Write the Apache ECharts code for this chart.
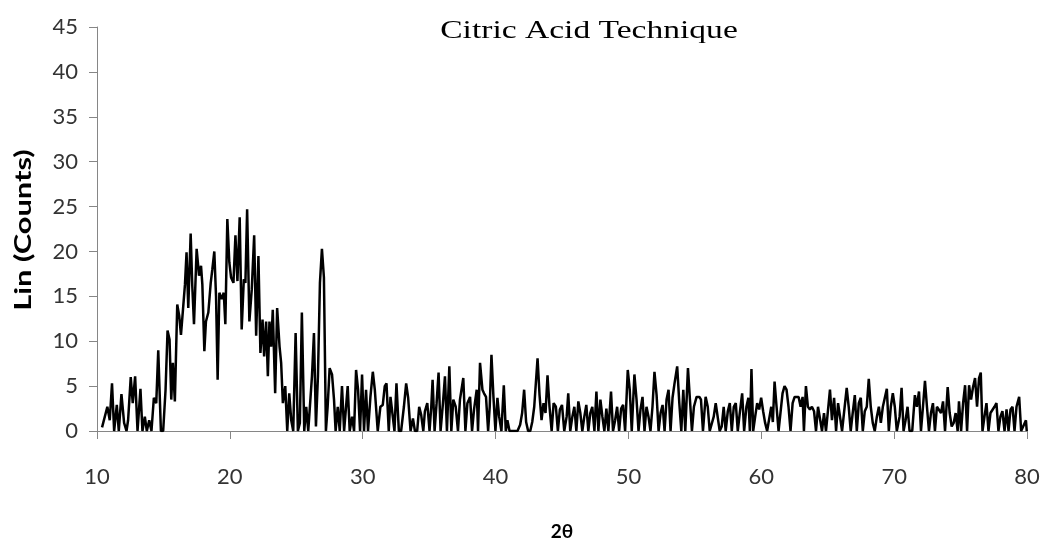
<!DOCTYPE html>
<html>
<head>
<meta charset="utf-8">
<script src="https://cdn.jsdelivr.net/npm/echarts@6/dist/echarts.min.js"></script>
<style>
  html, body { margin: 0; padding: 0; background: #fff; }
  #chart { width: 1042px; height: 542px; }
</style>
</head>
<body>
<div id="chart"></div>
<script>
// 2θ positions (deg) and counts, left to right
const twoTheta = [
  10.38,10.78,10.96,11.13,11.29,11.49,11.64,11.84,12.04,12.22,
  12.34,12.54,12.69,12.87,13.05,13.27,13.42,13.60,13.75,13.93,
  14.10,14.28,14.46,14.61,14.81,14.98,15.16,15.31,15.46,15.59,
  15.71,15.86,16.04,16.19,16.32,16.47,16.62,16.74,16.87,17.05,
  17.17,17.30,17.50,17.68,17.83,17.93,18.08,18.20,18.38,18.56,
  18.68,18.83,18.96,19.08,19.21,19.38,19.54,19.66,19.81,19.96,
  20.09,20.27,20.42,20.57,20.74,20.89,21.05,21.17,21.30,21.47,
  21.65,21.83,21.98,22.15,22.30,22.46,22.58,22.73,22.86,22.98,
  23.11,23.23,23.41,23.56,23.74,23.86,23.99,24.17,24.32,24.47,
  24.62,24.77,24.95,25.12,25.27,25.42,25.60,25.75,25.90,26.05,
  26.18,26.33,26.48,26.63,26.78,26.93,27.08,27.23,27.36,27.51,
  27.69,27.84,27.96,28.12,28.27,28.44,28.60,28.74,28.87,29.02,
  29.20,29.35,29.50,29.65,29.80,29.95,30.10,30.25,30.40,30.58,
  30.76,30.91,
  31.13,31.33,31.51,31.66,31.79,31.96,32.09,32.24,32.39,32.54,
  32.72,32.89,33.10,33.27,33.42,33.60,33.78,33.93,34.10,34.25,
  34.40,34.56,34.68,34.86,35.03,35.16,35.26,35.41,35.56,35.71,
  35.86,36.04,36.19,36.34,36.52,36.67,36.82,37.00,37.17,37.32,
  37.57,37.73,37.88,38.08,38.23,38.38,38.58,38.68,38.83,39.01,
  39.13,39.28,39.44,39.56,39.69,39.84,39.99,40.14,40.27,40.44,
  40.62,40.77,40.89,41.05,41.20,41.40,41.65,41.85,42.00,42.15,
  42.30,42.45,42.61,42.76,42.91,43.16,43.31,43.46,43.61,43.76,
  43.91,44.06,44.22,44.37,44.54,44.69,44.84,45.00,45.17,45.35,
  45.47,45.62,45.78,45.93,46.08,46.23,46.38,46.53,46.68,46.83,
  46.98,47.13,47.28,47.44,47.59,47.74,47.89,48.04,48.19,48.34,
  48.49,48.69,48.84,49.00,49.15,49.30,49.45,49.60,49.75,49.95,
  50.10,50.25,50.45,50.61,50.76,50.91,51.06,51.21,51.36,51.51,
  51.66,51.81,51.96,52.12,52.27,52.42,52.57,52.72,52.87,53.02,
  53.17,53.32,53.47,53.67,53.83,53.98,54.13,54.28,54.48,54.63,
  54.78,54.93,55.13,55.34,
  55.46,55.61,55.81,55.97,56.12,56.27,56.42,56.57,56.72,56.87,
  57.02,57.17,57.32,57.48,57.63,57.78,57.93,58.08,58.23,58.38,
  58.56,58.71,58.88,59.03,59.14,59.26,59.39,59.54,59.69,59.84,
  59.99,60.14,60.29,60.44,60.59,60.75,60.87,61.00,61.15,61.30,
  61.45,61.60,61.75,61.90,62.05,62.20,62.36,62.51,62.66,62.81,
  62.96,63.11,63.21,63.36,63.51,63.66,63.81,63.97,64.12,64.27,
  64.42,64.57,64.72,64.87,65.02,65.17,65.32,65.48,65.63,65.78,
  65.93,66.08,66.23,66.43,66.58,66.73,66.88,67.04,67.19,67.34,
  67.49,67.64,67.79,67.94,68.09,68.24,68.39,68.54,68.70,68.85,
  69.00,69.15,69.30,69.45,69.60,69.75,69.90,70.05,70.20,70.41,
  70.56,70.71,70.86,71.01,71.16,71.36,71.56,71.71,71.87,72.02,
  72.17,72.32,72.47,72.62,72.77,72.92,73.07,73.22,73.37,73.53,
  73.68,73.83,74.03,74.18,74.33,74.48,74.63,74.78,74.88,75.04,
  75.19,75.34,75.49,75.64,75.79,75.94,76.09,76.24,76.39,76.52,
  76.65,76.80,76.95,77.10,77.25,77.40,77.55,77.70,77.85,78.00,
  78.15,78.31,78.46,78.61,78.76,78.91,79.06,79.21,79.41,79.56,
  79.71,79.92,79.98
];

const counts = [
  0.4,2.7,1.2,5.3,0,2.9,0,4.1,0.9,0,
  1.2,6.0,3.1,6.1,0,4.7,0,1.6,0,1.2,
  0,3.7,3.1,9.0,0,0,4.6,11.2,10.2,3.5,
  7.6,3.3,14.1,12.8,10.7,13.5,16.3,19.9,13.7,22.0,
  16.2,11.9,20.3,17.3,18.4,16.3,8.9,12.2,13.2,16.5,
  18.0,20.0,15.0,5.7,15.4,14.7,15.4,11.9,23.6,18.8,
  17.1,16.5,21.8,16.7,23.8,11.3,16.9,16.5,24.7,12.2,
  15.8,21.8,10.6,19.5,8.7,12.4,8.3,12.2,6.1,12.2,
  9.4,13.5,4.2,13.7,9.4,7.6,3.1,5.0,0,4.2,
  1.2,0,10.9,0,0.9,13.2,0,2.7,0,0,
  6.1,10.9,0.5,6.1,16.5,20.3,17.1,0,2.7,7.0,
  6.3,3.5,0,2.7,0,5.0,0,0,5.0,0,
  1.6,0,6.8,4.6,0,6.3,0,4.6,0,3.8,
  6.6,4.6,
  0,2.7,2.9,5.0,5.3,0,3.8,4.0,0,5.3,
  0,0,2.7,5.3,3.7,0,1.4,0,0,2.7,
  1.8,0,2.2,3.1,0,2.7,5.7,0,3.1,6.5,
  0,3.1,6.1,0,7.2,0,3.5,2.7,0,3.5,
  5.9,0,3.1,3.8,0,2.4,4.6,0,7.6,4.6,
  4.2,3.8,0,2.7,8.5,3.8,0,3.7,1.6,0,
  5.1,0,1.2,0,0,0,0,0.7,2.0,4.6,
  1.0,0,0,1.0,2.7,8.1,4.0,1.2,3.1,2.0,
  6.2,2.7,0,3.1,2.7,0,2.4,2.9,0,1.6,
  4.2,0,1.6,2.7,0,3.3,2.0,0,1.6,2.9,
  0,2.0,2.7,0,4.4,0,3.5,1.6,0,2.5,
  0,4.4,0,1.2,2.7,0,2.5,2.9,0,6.8,
  4.6,0,6.3,3.5,0,2.4,3.8,0,2.7,1.6,
  0,2.7,6.6,4.0,0,2.0,2.9,0,3.5,4.6,
  0,3.7,5.3,7.2,3.1,0,4.6,0,7.0,3.5,
  0,2.7,3.8,3.8,
  3.5,0,3.8,2.7,0,0,1.6,3.1,2.9,0,
  0.5,2.7,0,2.2,3.1,0,2.7,3.1,0,2.0,
  4.2,0,2.7,3.7,0,6.9,0,1.6,3.1,2.4,
  3.7,2.2,0.9,0,0,2.7,1.0,5.5,2.7,0,
  0,4.2,5.0,4.6,2.7,0,3.1,3.8,3.7,3.8,
  2.7,3.8,0,5.0,2.7,2.4,2.7,2.2,0,2.7,
  2.9,0,2.0,0,0,4.6,1.2,3.7,0,3.1,
  3.1,0,0,4.8,2.7,0,2.0,4.0,0,3.1,
  3.7,0,2.2,2.7,5.8,2.7,0.9,0,1.6,2.7,
  0.9,2.7,3.7,4.7,0,2.7,4.2,2.7,0,1.6,
  4.8,0,1.2,2.7,0,0,4.0,2.7,4.4,0,
  2.7,5.6,2.7,0,2.0,3.1,0,2.7,2.7,2.0,
  3.3,0,4.9,2.0,0.5,0.9,2.0,0,3.3,0,
  3.1,5.1,0,5.1,3.5,4.9,5.9,2.7,5.9,6.5,
  0,1.6,3.1,0,2.0,1.8,2.7,3.1,0,1.6,
  2.2,0,2.4,0,2.4,2.7,0,2.7,3.8,0,
  0,1.2,0
];

const xTicks = { min: 10, max: 80, step: 10 };
const yTicks = { min: 0, max: 45, step: 5 };

const axisGray = "#868686";
const labelFont = "Lato, 'Open Sans', sans-serif";

const chart = echarts.init(document.getElementById("chart"), null, { renderer: "canvas" });

chart.setOption({
  animation: false,
  backgroundColor: "#fff",
  // title and y name are stretched in the source image, so draw them as scaled text
  graphic: [
    {
      type: "text",
      x: 589,
      y: 31,
      scaleX: 1.29,
      style: {
        text: "Citric Acid Technique",
        font: "26px 'Liberation Serif', 'DejaVu Serif', serif",
        fill: "#000",
        align: "center",
        verticalAlign: "middle"
      }
    },
    {
      type: "text",
      x: 24,
      y: 230,
      rotation: Math.PI / 2,
      scaleX: 1.4,
      style: {
        text: "Lin (Counts)",
        font: "bold 22px Lato, 'Open Sans', sans-serif",
        fill: "#000",
        align: "center",
        verticalAlign: "middle"
      }
    }
  ],
  grid: { left: 97, right: 15, top: 27, bottom: 111, outerBoundsMode: "none" },
  xAxis: {
    type: "value",
    min: xTicks.min,
    max: xTicks.max,
    interval: xTicks.step,
    name: "2θ",
    nameLocation: "middle",
    nameGap: 91,
    nameTextStyle: { fontFamily: labelFont, fontWeight: "bold", fontSize: 19, color: "#000" },
    axisLine: { show: true, lineStyle: { color: axisGray, width: 1 } },
    axisTick: { show: true, length: 8, lineStyle: { color: axisGray } },
    axisLabel: { margin: 35, fontFamily: labelFont, fontSize: 22, color: "#333" },
    splitLine: { show: false }
  },
  yAxis: {
    type: "value",
    min: yTicks.min,
    max: yTicks.max,
    interval: yTicks.step,
    axisLine: { show: true, lineStyle: { color: axisGray, width: 1 } },
    axisTick: { show: true, length: 8, lineStyle: { color: axisGray } },
    axisLabel: { margin: 19, fontFamily: labelFont, fontSize: 22, color: "#333" },
    splitLine: { show: false }
  },
  series: [
    {
      type: "line",
      data: twoTheta.map((t, i) => [t, counts[i]]),
      showSymbol: false,
      symbol: "none",
      lineStyle: { color: "#000", width: 2.5 },
      z: 3
    }
  ]
});
</script>
</body>
</html>
